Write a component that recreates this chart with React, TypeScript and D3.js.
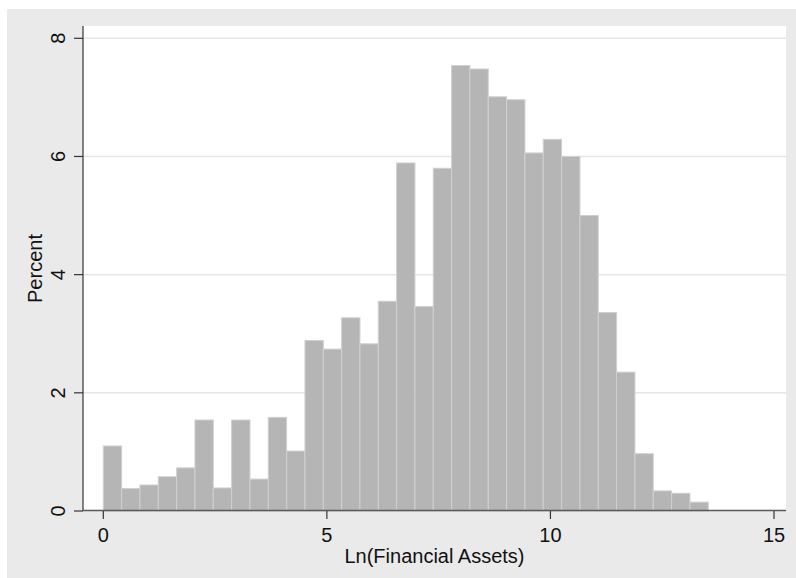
import React from "react";
import * as d3 from "d3";

const binStart = 0;
const binWidth = 0.41;
const percents = [
  1.1, 0.38, 0.44, 0.58, 0.73, 1.54, 0.39, 1.54, 0.54, 1.585, 1.015,
  2.885, 2.74, 3.27, 2.83, 3.55, 5.89, 3.46, 5.8, 7.54, 7.48, 7.01,
  6.96, 6.06, 6.29, 6.0, 5.0, 3.36, 2.35, 0.97, 0.34, 0.3, 0.15,
];
const xTicks = [0, 5, 10, 15];
const yTicks = [0, 2, 4, 6, 8];
const xTitle = "Ln(Financial Assets)";
const yTitle = "Percent";

const W = 796;
const H = 578;
const plot = { left: 83, right: 786, top: 26, bottom: 511 };
const font = "'Liberation Sans', Arial, Helvetica, sans-serif";

export default function App() {
  const x = d3.scaleLinear().domain([0, 15]).range([103.3, 774]);
  const y = d3.scaleLinear().domain([0, 8]).range([511, 38.3]);
  const bins = percents.map((v, i) => ({
    x0: binStart + i * binWidth,
    x1: binStart + (i + 1) * binWidth,
    v,
  }));
  return (
    <div style={{ position: "absolute", left: 0, top: 0 }}>
      <svg width={W} height={H} style={{ display: "block" }}>
        <rect x={0} y={0} width={W} height={H} fill="#ffffff" />
        <rect x={7} y={9} width={W - 7} height={H - 9} fill="#eaeaea" />
        <rect
          x={plot.left}
          y={plot.top}
          width={plot.right - plot.left}
          height={plot.bottom - plot.top}
          fill="#ffffff"
        />
        {yTicks
          .filter((t) => t > 0)
          .map((t) => (
            <line
              key={"g" + t}
              x1={plot.left}
              x2={plot.right}
              y1={y(t)}
              y2={y(t)}
              stroke="#e6e6e6"
              strokeWidth={1.5}
            />
          ))}
        {bins.map((b, i) => (
          <rect
            key={i}
            x={x(b.x0)}
            y={y(b.v)}
            width={x(b.x1) - x(b.x0)}
            height={y(0) - y(b.v)}
            fill="#b5b5b5"
            stroke="#d0d0d0"
            strokeWidth={1}
          />
        ))}
        <line
          x1={plot.left}
          x2={plot.left}
          y1={plot.top}
          y2={plot.bottom}
          stroke="#333333"
          strokeWidth={1.2}
        />
        <line
          x1={plot.left}
          x2={plot.right}
          y1={plot.bottom - 0.5}
          y2={plot.bottom - 0.5}
          stroke="#5a5a5a"
          strokeWidth={1.5}
        />
        {yTicks.map((t) => (
          <g key={"y" + t}>
            <line
              x1={74}
              x2={plot.left}
              y1={y(t)}
              y2={y(t)}
              stroke="#333333"
              strokeWidth={1.2}
            />
            <text
              transform={`translate(65,${y(t)}) rotate(-90)`}
              textAnchor="middle"
              fontFamily={font}
              fontSize={20}
              fill="#111"
            >
              {t}
            </text>
          </g>
        ))}
        {xTicks.map((t) => (
          <g key={"x" + t}>
            <line
              x1={x(t)}
              x2={x(t)}
              y1={plot.bottom}
              y2={519}
              stroke="#333333"
              strokeWidth={1.2}
            />
            <text
              x={x(t)}
              y={542}
              textAnchor="middle"
              fontFamily={font}
              fontSize={20}
              fill="#111"
            >
              {t}
            </text>
          </g>
        ))}
        <text
          x={(plot.left + plot.right) / 2}
          y={563}
          textAnchor="middle"
          fontFamily={font}
          fontSize={20}
          fill="#111"
        >
          {xTitle}
        </text>
        <text
          transform={`translate(42,${(plot.top + plot.bottom) / 2}) rotate(-90)`}
          textAnchor="middle"
          fontFamily={font}
          fontSize={20}
          fill="#111"
        >
          {yTitle}
        </text>
      </svg>
    </div>
  );
}
